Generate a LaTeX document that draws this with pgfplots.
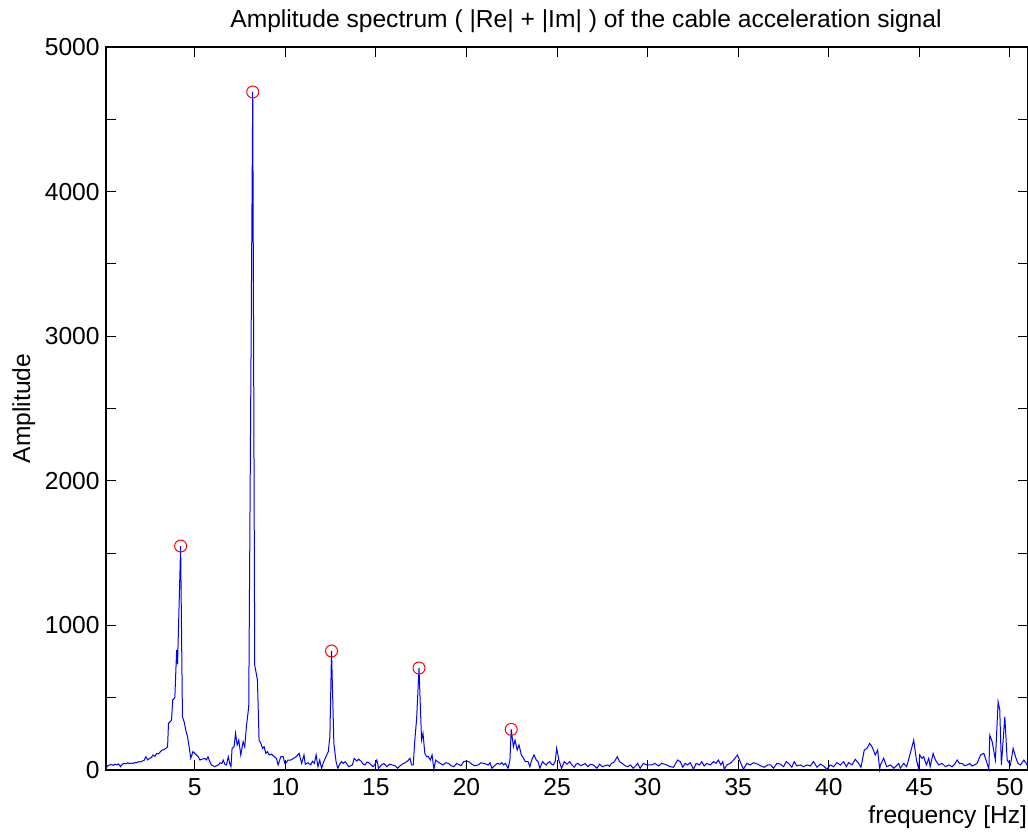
\documentclass[border=0pt]{standalone}
\usepackage{pgfplots}
\pgfplotsset{compat=1.18}
\usepackage{fontspec}
\setmainfont{Liberation Sans}
\begin{document}
\begin{tikzpicture}
\fontsize{12.3}{14}\selectfont
\path[use as bounding box] (-53pt,-31pt) rectangle (461pt,385pt);
\begin{axis}[
  at={(0,0)}, anchor=south west,
  scale only axis,
  width=461pt, height=361.5pt,
  xmin=0.1, xmax=51, ymin=0, ymax=5000,
  xtick={5,10,...,50},
  ytick={0,500,...,5000},
  yticklabels={0,,1000,,2000,,3000,,4000,,5000},
  tick align=inside,
  major tick length=5pt,
  tick style={black, line width=0.5pt},
  axis line style={black, line width=0.6pt},
  /pgf/number format/assume math mode=true,
  /pgf/number format/1000 sep={},
  xticklabel style={inner sep=0pt, anchor=north, yshift=-4pt, font=\fontsize{12.3}{14}\selectfont},
  yticklabel style={inner sep=0pt, anchor=east, xshift=-3pt, font=\fontsize{12.3}{14}\selectfont},
  scaled ticks=false,
  clip=false,
]
\addplot[blue, line width=0.5pt, mark=none] table {
0.1 12
0.2 30
0.3 35
0.4 38
0.5 32
0.6 40
0.7 36
0.8 42
0.9 23
1.0 40
1.1 46
1.2 42
1.3 50
1.4 44
1.5 48
1.6 46
1.7 52
1.8 50
1.9 58
2.0 56
2.1 62
2.2 66
2.3 92
2.4 70
2.5 80
2.6 86
2.7 104
2.8 94
2.9 115
3.0 112
3.1 126
3.2 138
3.3 140
3.4 150
3.5 160
3.55 323
3.65 335
3.72 346
3.78 484
3.9 500
4.0 830
4.05 730
4.22 1549
4.32 369
4.42 330
4.5 277
4.6 230
4.69 161
4.78 81
4.9 127
5.0 115
5.09 104
5.2 90
5.28 69
5.4 75
5.55 80
5.65 70
5.73 92
5.82 60
5.92 35
6.0 30
6.1 23
6.2 30
6.3 35
6.4 50
6.5 45
6.57 69
6.66 40
6.75 35
6.85 92
6.93 46
7.0 23
7.06 150
7.17 161
7.25 254
7.34 173
7.43 207
7.54 104
7.67 196
7.76 161
7.85 300
7.98 438
8.2 4689
8.31 726
8.46 622
8.55 207
8.65 184
8.74 150
8.83 161
8.92 115
9.01 127
9.11 104
9.24 110
9.38 92
9.51 81
9.6 35
9.75 92
9.88 92
9.97 46
10.05 51
10.15 69
10.3 69
10.45 80
10.6 92
10.76 115
10.9 46
11.03 104
11.1 40
11.25 50
11.4 35
11.5 60
11.6 46
11.7 104
11.8 23
11.9 69
12.0 12
12.1 50
12.2 81
12.37 127
12.46 230
12.55 823
12.68 184
12.8 58
12.9 12
13.0 40
13.1 58
13.2 45
13.3 58
13.4 40
13.5 23
13.6 30
13.7 35
13.8 80
13.95 62
14.05 75
14.2 58
14.3 40
14.4 35
14.5 55
14.6 51
14.7 40
14.85 23
14.95 40
15.05 69
15.15 12
15.3 35
15.45 45
15.6 23
15.75 40
15.9 35
16.05 30
16.2 12
16.3 25
16.45 40
16.6 50
16.75 62
16.88 81
16.97 35
17.06 35
17.15 208
17.25 357
17.38 705
17.52 208
17.6 254
17.7 115
17.8 92
17.9 92
18.0 69
18.1 104
18.2 5
18.3 69
18.4 58
18.55 46
18.7 35
18.85 50
19.0 46
19.15 30
19.3 23
19.45 45
19.55 40
19.7 30
19.85 58
20.0 62
20.15 55
20.3 40
20.45 30
20.65 35
20.8 50
20.95 46
21.1 40
21.2 35
21.3 50
21.4 12
21.55 30
21.7 46
21.85 40
21.95 51
22.05 35
22.15 46
22.3 12
22.4 69
22.47 281
22.59 161
22.68 207
22.8 138
22.9 173
23.03 104
23.15 81
23.25 58
23.4 58
23.5 23
23.6 69
23.73 104
23.85 70
23.95 58
24.05 12
24.2 58
24.3 45
24.4 35
24.5 50
24.6 58
24.7 40
24.8 35
24.9 60
24.98 150
25.1 69
25.25 12
25.4 58
25.55 40
25.7 58
25.82 35
25.95 19
26.05 40
26.15 46
26.3 30
26.4 35
26.55 45
26.7 23
26.85 40
27.0 35
27.1 25
27.2 12
27.35 40
27.5 23
27.65 30
27.8 35
27.9 25
28.0 46
28.15 55
28.33 92
28.45 58
28.6 46
28.75 30
28.9 23
29.05 35
29.2 12
29.35 30
29.45 46
29.59 12
29.77 46
29.95 35
30.23 35
30.41 46
30.6 28
30.78 46
31.06 35
31.24 23
31.43 19
31.65 69
31.8 58
31.94 19
32.07 46
32.2 35
32.35 51
32.53 5
32.68 46
32.86 35
32.99 58
33.12 28
33.27 46
33.45 35
33.64 58
33.78 46
33.91 69
34.04 35
34.15 58
34.23 5
34.37 35
34.56 46
34.78 74
34.96 104
35.11 58
35.29 5
35.48 46
35.66 35
35.85 51
36.07 41
36.25 28
36.44 19
36.62 35
36.8 35
36.95 12
37.14 46
37.32 41
37.5 23
37.65 58
37.78 46
37.96 19
38.09 58
38.24 28
38.43 35
38.61 23
38.79 35
38.98 28
39.16 58
39.35 19
39.53 41
39.71 28
39.9 5
40.08 35
40.27 23
40.45 51
40.64 35
40.82 58
40.97 23
41.1 51
41.28 35
41.46 74
41.65 46
41.78 19
41.96 138
42.11 150
42.26 184
42.39 161
42.57 104
42.7 138
42.81 5
42.85 35
43.03 81
43.2 23
43.4 35
43.6 12
43.86 46
43.95 12
44.14 46
44.3 23
44.5 115
44.69 207
44.84 69
44.97 5
45.02 104
45.15 81
45.24 92
45.39 35
45.52 81
45.6 23
45.76 115
45.89 69
46.07 35
46.26 46
46.44 23
46.63 35
46.81 23
46.95 40
47.09 69
47.22 45
47.36 46
47.5 30
47.64 35
47.78 45
47.91 28
48.05 35
48.19 46
48.38 104
48.56 115
48.71 58
48.84 5
48.89 242
49.02 196
49.2 69
49.35 473
49.44 415
49.53 35
49.72 369
49.85 69
50.03 35
50.18 150
50.31 92
50.44 46
50.58 35
50.77 69
50.95 35
51.0 50
};
\addplot[only marks, mark=o, red, mark size=3pt, mark options={line width=0.5pt}] table {
4.22 1549
8.2 4689
12.55 823
17.38 705
22.47 281
};
\node[anchor=base] at ([yshift=10pt]rel axis cs:0.5206,1) {Amplitude spectrum ( |Re| + |Im| ) of the cable acceleration signal};
\node[anchor=base] at ([yshift=-26.8pt]rel axis cs:0.913,0) {frequency [Hz]};
\node[anchor=base, rotate=90] at ([xshift=-38pt]rel axis cs:0,0.5) {Amplitude};
\end{axis}
\end{tikzpicture}
\end{document}
